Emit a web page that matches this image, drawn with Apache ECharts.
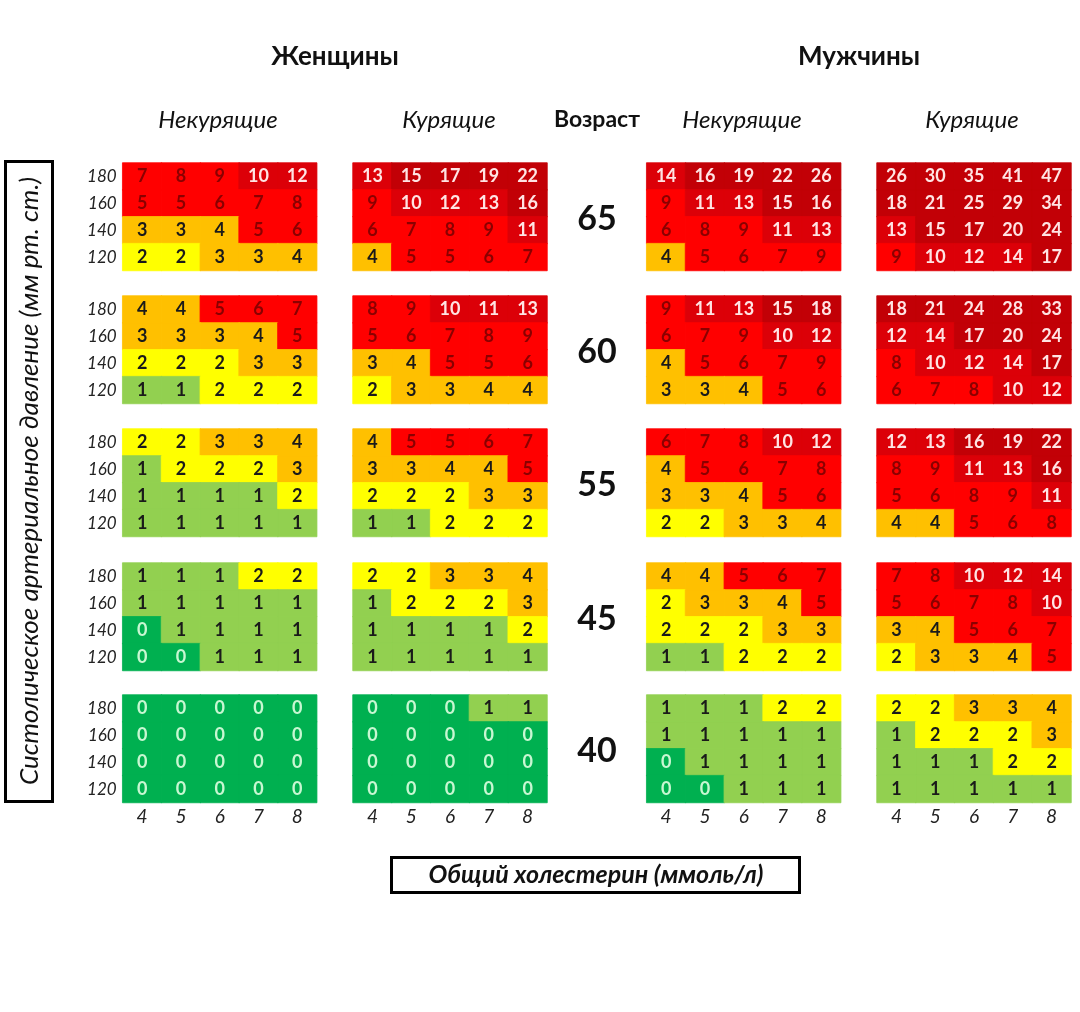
<!DOCTYPE html>
<html>
<head>
<meta charset="utf-8">
<script src="https://cdn.jsdelivr.net/npm/echarts@6/dist/echarts.min.js"></script>
<style>
  html, body { margin: 0; padding: 0; background: #fff; }
  #chart { width: 1080px; height: 1012px; }
</style>
</head>
<body>
<div id="chart"></div>
<script>
// ---- Data ----
const cholesterol = ['4', '5', '6', '7', '8'];          // x categories (mmol/l)
const pressure = ['180', '160', '140', '120'];           // rows top -> bottom (mm Hg)
const ages = ['65', '60', '55', '45', '40'];             // age blocks top -> bottom
const groupTitles = ['Женщины', 'Мужчины'];
const smokingTitles = ['Некурящие', 'Курящие', 'Некурящие', 'Курящие'];

// each: 5 age blocks, each block rows 180,160,140,120 x cols 4..8
const womenNonSmokers = [
  [[7, 8, 9, 10, 12], [5, 5, 6, 7, 8], [3, 3, 4, 5, 6], [2, 2, 3, 3, 4]],
  [[4, 4, 5, 6, 7], [3, 3, 3, 4, 5], [2, 2, 2, 3, 3], [1, 1, 2, 2, 2]],
  [[2, 2, 3, 3, 4], [1, 2, 2, 2, 3], [1, 1, 1, 1, 2], [1, 1, 1, 1, 1]],
  [[1, 1, 1, 2, 2], [1, 1, 1, 1, 1], [0, 1, 1, 1, 1], [0, 0, 1, 1, 1]],
  [[0, 0, 0, 0, 0], [0, 0, 0, 0, 0], [0, 0, 0, 0, 0], [0, 0, 0, 0, 0]]
];
const womenSmokers = [
  [[13, 15, 17, 19, 22], [9, 10, 12, 13, 16], [6, 7, 8, 9, 11], [4, 5, 5, 6, 7]],
  [[8, 9, 10, 11, 13], [5, 6, 7, 8, 9], [3, 4, 5, 5, 6], [2, 3, 3, 4, 4]],
  [[4, 5, 5, 6, 7], [3, 3, 4, 4, 5], [2, 2, 2, 3, 3], [1, 1, 2, 2, 2]],
  [[2, 2, 3, 3, 4], [1, 2, 2, 2, 3], [1, 1, 1, 1, 2], [1, 1, 1, 1, 1]],
  [[0, 0, 0, 1, 1], [0, 0, 0, 0, 0], [0, 0, 0, 0, 0], [0, 0, 0, 0, 0]]
];
const menNonSmokers = [
  [[14, 16, 19, 22, 26], [9, 11, 13, 15, 16], [6, 8, 9, 11, 13], [4, 5, 6, 7, 9]],
  [[9, 11, 13, 15, 18], [6, 7, 9, 10, 12], [4, 5, 6, 7, 9], [3, 3, 4, 5, 6]],
  [[6, 7, 8, 10, 12], [4, 5, 6, 7, 8], [3, 3, 4, 5, 6], [2, 2, 3, 3, 4]],
  [[4, 4, 5, 6, 7], [2, 3, 3, 4, 5], [2, 2, 2, 3, 3], [1, 1, 2, 2, 2]],
  [[1, 1, 1, 2, 2], [1, 1, 1, 1, 1], [0, 1, 1, 1, 1], [0, 0, 1, 1, 1]]
];
const menSmokers = [
  [[26, 30, 35, 41, 47], [18, 21, 25, 29, 34], [13, 15, 17, 20, 24], [9, 10, 12, 14, 17]],
  [[18, 21, 24, 28, 33], [12, 14, 17, 20, 24], [8, 10, 12, 14, 17], [6, 7, 8, 10, 12]],
  [[12, 13, 16, 19, 22], [8, 9, 11, 13, 16], [5, 6, 8, 9, 11], [4, 4, 5, 6, 8]],
  [[7, 8, 10, 12, 14], [5, 6, 7, 8, 10], [3, 4, 5, 6, 7], [2, 3, 3, 4, 5]],
  [[2, 2, 3, 3, 4], [1, 2, 2, 2, 3], [1, 1, 1, 2, 2], [1, 1, 1, 1, 1]]
];
const panels = [womenNonSmokers, womenSmokers, menNonSmokers, menSmokers];

// ---- Styling helpers ----
function cellColor(v) {
  if (v === 0) return '#00B050';
  if (v === 1) return '#92D050';
  if (v === 2) return '#FFFF00';
  if (v <= 4) return '#FFC000';
  if (v <= 9) return '#FF0000';
  if (v <= 14) return '#DC0008';
  return '#C20006';
}
function textColor(v) {
  if (v === 0) return '#C8F7D2';
  if (v <= 4) return '#1a1a1a';
  if (v <= 9) return '#8A0000';
  return '#FFE4E4';
}

// ---- Layout ----
const panelLeft = [122.7, 353, 646.7, 877];
const panelWidth = 194;
const blockTop = [163, 296, 429, 563, 695];
const blockHeight = 107.5;
const FONT = 'Lato, "Open Sans", sans-serif';

const grids = [], xAxes = [], yAxes = [], series = [];
let gi = 0;
for (let p = 0; p < panels.length; p++) {
  for (let a = 0; a < ages.length; a++) {
    grids.push({ left: panelLeft[p], top: blockTop[a], width: panelWidth, height: blockHeight, containLabel: false });
    xAxes.push({
      type: 'category', gridIndex: gi, data: cholesterol,
      axisLine: { show: false }, axisTick: { show: false }, splitLine: { show: false },
      axisLabel: { show: a === ages.length - 1, fontFamily: FONT, fontStyle: 'italic', fontSize: 19, color: '#222', margin: 5 }
    });
    yAxes.push({
      type: 'category', gridIndex: gi, data: pressure.slice().reverse(),
      axisLine: { show: false }, axisTick: { show: false }, splitLine: { show: false },
      axisLabel: { show: p === 0, fontFamily: FONT, fontStyle: 'italic', fontSize: 17, color: '#222', margin: 6 }
    });
    const block = panels[p][a];
    const data = [];
    for (let r = 0; r < pressure.length; r++) {
      for (let c = 0; c < cholesterol.length; c++) {
        const v = block[r][c];
        const col = cellColor(v);
        data.push({
          value: [c, pressure.length - 1 - r, v],
          itemStyle: { color: col, borderColor: col, borderWidth: 0.8 },
          label: { color: textColor(v) }
        });
      }
    }
    series.push({
      type: 'heatmap', xAxisIndex: gi, yAxisIndex: gi, data: data,
      label: { show: true, fontFamily: FONT, fontSize: 18, fontWeight: 'bold', formatter: (prm) => prm.value[2] },
      emphasis: { disabled: true }, silent: true, animation: false
    });
    gi++;
  }
}

const graphics = [];
// Group titles
const groupCenters = [335, 859];
groupTitles.forEach((t, i) => graphics.push({
  type: 'text', x: groupCenters[i], y: 57,
  style: { text: t, fontFamily: FONT, fontWeight: 'bold', fontSize: 26, fill: '#111', align: 'center', verticalAlign: 'middle' }
}));
// Smoking titles
const smokingCenters = [218, 449, 742, 972];
smokingTitles.forEach((t, i) => graphics.push({
  type: 'text', x: smokingCenters[i], y: 120,
  style: { text: t, fontFamily: FONT, fontStyle: 'italic', fontSize: 24, fill: '#111', align: 'center', verticalAlign: 'middle' }
}));
graphics.push({
  type: 'text', x: 597, y: 120,
  style: { text: 'Возраст', fontFamily: FONT, fontWeight: 'bold', fontSize: 23, fill: '#111', align: 'center', verticalAlign: 'middle' }
});
// Age labels
ages.forEach((t, i) => graphics.push({
  type: 'text', x: 597, y: blockTop[i] + blockHeight / 2 + 2,
  style: { text: t, fontFamily: FONT, fontWeight: 'bold', fontSize: 34, fill: '#111', align: 'center', verticalAlign: 'middle' }
}));
// Left box + rotated title
graphics.push({
  type: 'rect', shape: { x: 5.5, y: 161.5, width: 47, height: 640 },
  style: { fill: 'none', stroke: '#000', lineWidth: 3 }
});
graphics.push({
  type: 'text', x: 30, y: 481, rotation: Math.PI / 2,
  style: { text: 'Систолическое артериальное давление (мм рт. ст.)', fontFamily: FONT, fontStyle: 'italic', fontSize: 26, fill: '#111', align: 'center', verticalAlign: 'middle' }
});
// Bottom box + title
graphics.push({
  type: 'rect', shape: { x: 391.5, y: 857.5, width: 408, height: 35 },
  style: { fill: 'none', stroke: '#000', lineWidth: 3 }
});
graphics.push({
  type: 'text', x: 596, y: 875,
  style: { text: 'Общий холестерин (ммоль/л)', fontFamily: FONT, fontStyle: 'italic', fontWeight: 'bold', fontSize: 25, fill: '#111', align: 'center', verticalAlign: 'middle' }
});

const chart = echarts.init(document.getElementById('chart'), null, { renderer: 'canvas' });
chart.setOption({
  backgroundColor: '#fff',
  animation: false,
  grid: grids,
  xAxis: xAxes,
  yAxis: yAxes,
  series: series,
  graphic: graphics
});
</script>
</body>
</html>
